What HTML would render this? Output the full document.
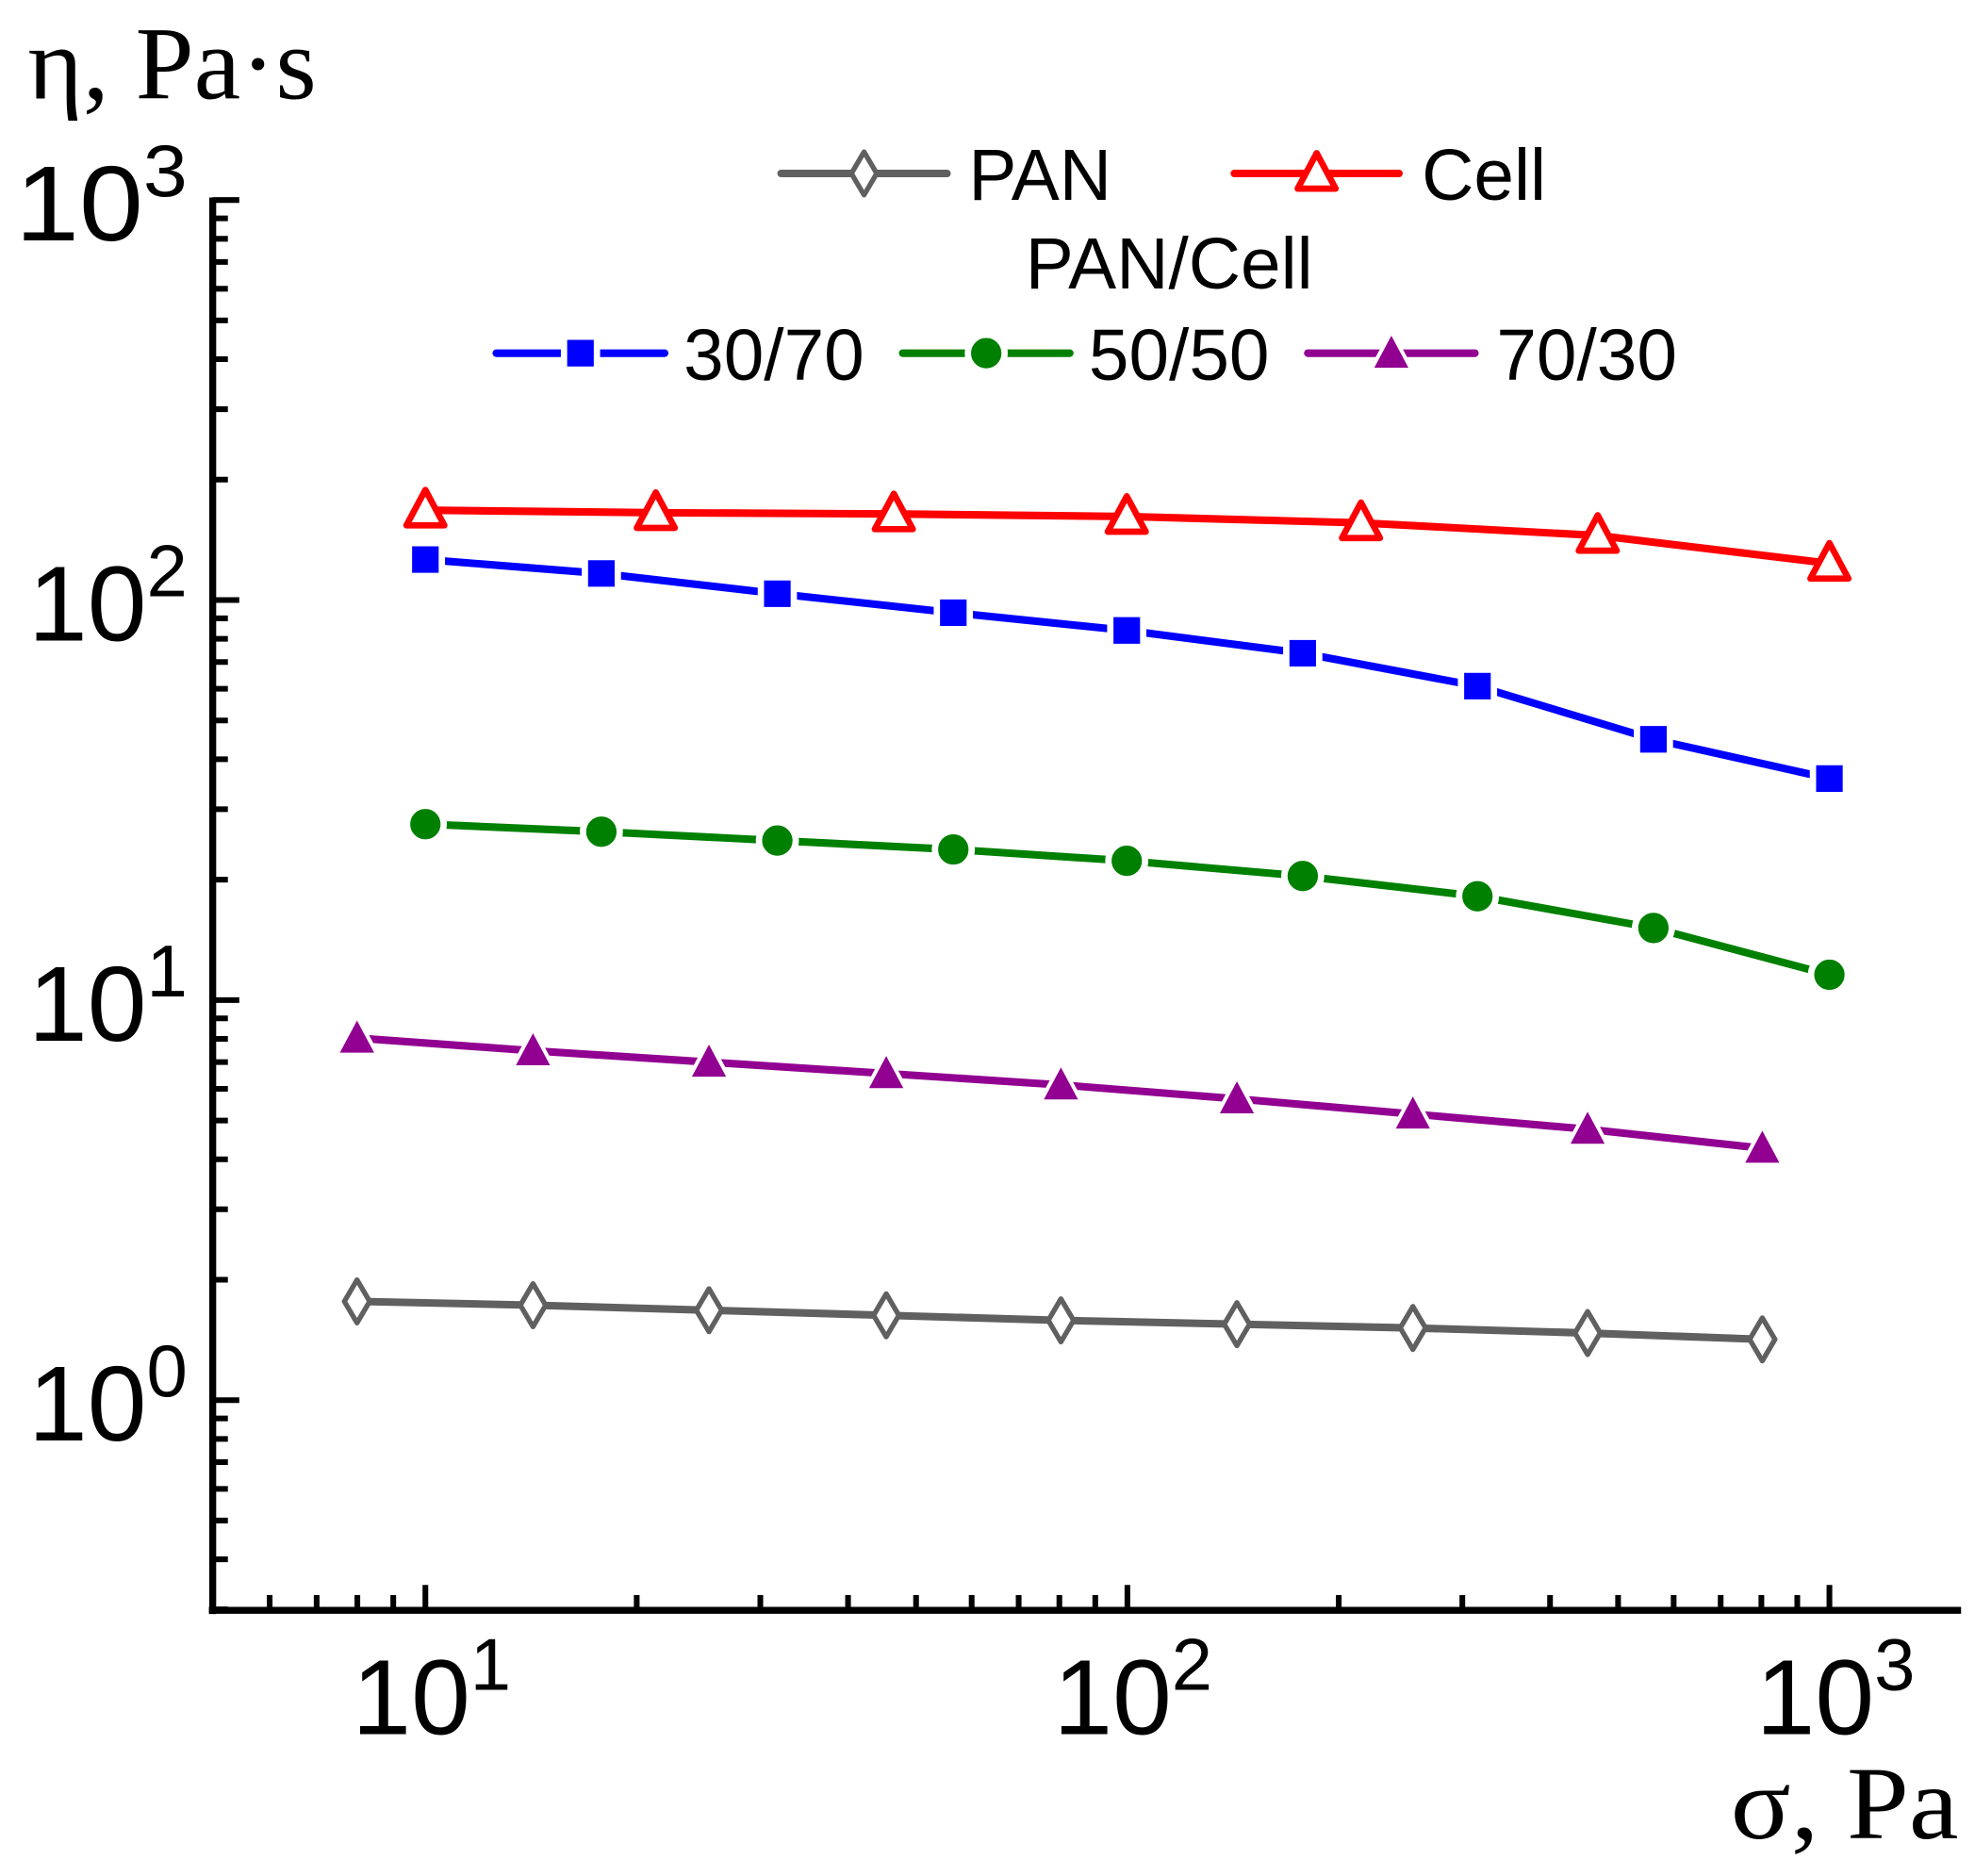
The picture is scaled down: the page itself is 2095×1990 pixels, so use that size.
<!DOCTYPE html>
<html><head><style>html,body{margin:0;padding:0;background:#fff}svg{display:block}</style></head>
<body>
<svg width="2095" height="1990" viewBox="0 0 1560 1481.9" preserveAspectRatio="none" xmlns="http://www.w3.org/2000/svg">
<rect width="1560" height="1482" fill="#fff"/>
<g stroke="#000" stroke-width="5.5" fill="none">
<line x1="168" y1="156" x2="168" y2="1275"/>
<line x1="165" y1="1272" x2="1549" y2="1272"/>
</g>
<g stroke="#000" stroke-width="4.5" id="yt"></g>
<g stroke="#000" stroke-width="4.5" id="xt"></g>
<g font-family="'Liberation Sans', sans-serif" fill="#000">
<text x="148" y="190" font-size="84" text-anchor="end" textLength="136" lengthAdjust="spacingAndGlyphs">10<tspan dy="-35" font-size="58">3</tspan></text>
<text x="148" y="506" font-size="84" text-anchor="end">10<tspan dy="-35" font-size="58">2</tspan></text>
<text x="148" y="822" font-size="84" text-anchor="end">10<tspan dy="-35" font-size="58">1</tspan></text>
<text x="148" y="1138" font-size="84" text-anchor="end">10<tspan dy="-35" font-size="58">0</tspan></text>
<text x="278" y="1370" font-size="84">10<tspan dy="-35" font-size="58">1</tspan></text>
<text x="832" y="1370" font-size="84">10<tspan dy="-35" font-size="58">2</tspan></text>
<text x="1387" y="1370" font-size="84">10<tspan dy="-35" font-size="58">3</tspan></text>
<text x="765" y="158" font-size="57">PAN</text>
<text x="1123" y="158" font-size="57">Cell</text>
<text x="810" y="228" font-size="57">PAN/Cell</text>
<text x="540" y="300" font-size="57">30/70</text>
<text x="860" y="300" font-size="57">50/50</text>
<text x="1182" y="300" font-size="57">70/30</text>
</g>
<g font-family="'Liberation Serif', serif" fill="#000" font-size="82">
<text x="22" y="78" textLength="228" lengthAdjust="spacingAndGlyphs">η, Pa·s</text>
<text x="1547" y="1452" text-anchor="end" textLength="180" lengthAdjust="spacingAndGlyphs">σ, Pa</text>
</g>
<g id="series" stroke-linecap="round" stroke-linejoin="round"></g>
<script>
const ns="http://www.w3.org/2000/svg";
function el(p,t,a){const e=document.createElementNS(ns,t);for(const k in a)e.setAttribute(k,a[k]);p.appendChild(e);return e;}
const yt=document.getElementById('yt'),xt=document.getElementById('xt');
const Y=v=>1106-316*Math.log10(v), X=v=>336+554.5*(Math.log10(v)-1);
for(let d=-1;d<3;d++)for(let m=1;m<10;m++){const v=m*Math.pow(10,d);if(v<0.3||v>1000)continue;const y=Y(v);el(yt,'line',{x1:168,x2:168+(m==1?21:12),y1:y,y2:y});}
el(yt,'line',{x1:168,x2:189,y1:Y(1000),y2:Y(1000)});
for(let d=0;d<4;d++)for(let m=1;m<10;m++){const v=m*Math.pow(10,d);if(v<6||v>1000)continue;const x=X(v);el(xt,'line',{x1:x,x2:x,y1:1272,y2:1272-(m==1?20:12)});}
const S=document.getElementById('series');
function marker(g,type,x,y,c){
 if(type=='sq')el(g,'rect',{x:x-13,y:y-13,width:26,height:26,fill:c,stroke:'#fff','stroke-width':5});
 if(type=='ci')el(g,'circle',{cx:x,cy:y,r:14.5,fill:c,stroke:'#fff','stroke-width':5});
 if(type=='tf')el(g,'polygon',{points:`${x},${y-17} ${x+16},${y+13} ${x-16},${y+13}`,fill:c,stroke:'#fff','stroke-width':3});
 if(type=='to')el(g,'polygon',{points:`${x},${y-16} ${x+15},${y+12} ${x-15},${y+12}`,fill:'#fff',stroke:c,'stroke-width':5});
 if(type=='di')el(g,'polygon',{points:`${x},${y-17} ${x+10},${y} ${x},${y+17} ${x-10},${y}`,fill:'#fff',stroke:c,'stroke-width':4});
}
function series(pts,c,type){
 el(S,'polyline',{points:pts.map(p=>p.join(',')).join(' '),fill:'none',stroke:c,'stroke-width':6});
 pts.forEach(p=>marker(S,type,p[0],p[1],c));
}
series([[336,403],[518,405],[706,406],[890,408],[1075,413],[1262,423],[1445,445]],'#ff0000','to');
series([[336,442],[475,453],[614,469],[753,484],[890,498],[1029,516],[1167,542],[1306,584],[1445,615]],'#0000ff','sq');
series([[336,651],[475,657],[614,664],[753,671],[890,680],[1029,692],[1167,708],[1306,733],[1445,770]],'#008000','ci');
series([[282,820],[421,830],[560,839],[700,848],[838,857],[977,868],[1116,880],[1254,892],[1392,907]],'#910091','tf');
series([[282,1028],[421,1031],[560,1035],[700,1039],[838,1043],[977,1046],[1116,1049],[1254,1053],[1392,1058]],'#606060','di');
function leg(x1,x2,y,c,type){el(S,'line',{x1:x1,x2:x2,y1:y,y2:y,stroke:c,'stroke-width':6});marker(S,type,(x1+x2)/2,y,c);}
leg(617,748,137,'#606060','di');
leg(975,1105,137,'#ff0000','to');
leg(392,525,279,'#0000ff','sq');
leg(713,845,279,'#008000','ci');
leg(1033,1165,279,'#910091','tf');
</script>
</svg>
</body></html>
